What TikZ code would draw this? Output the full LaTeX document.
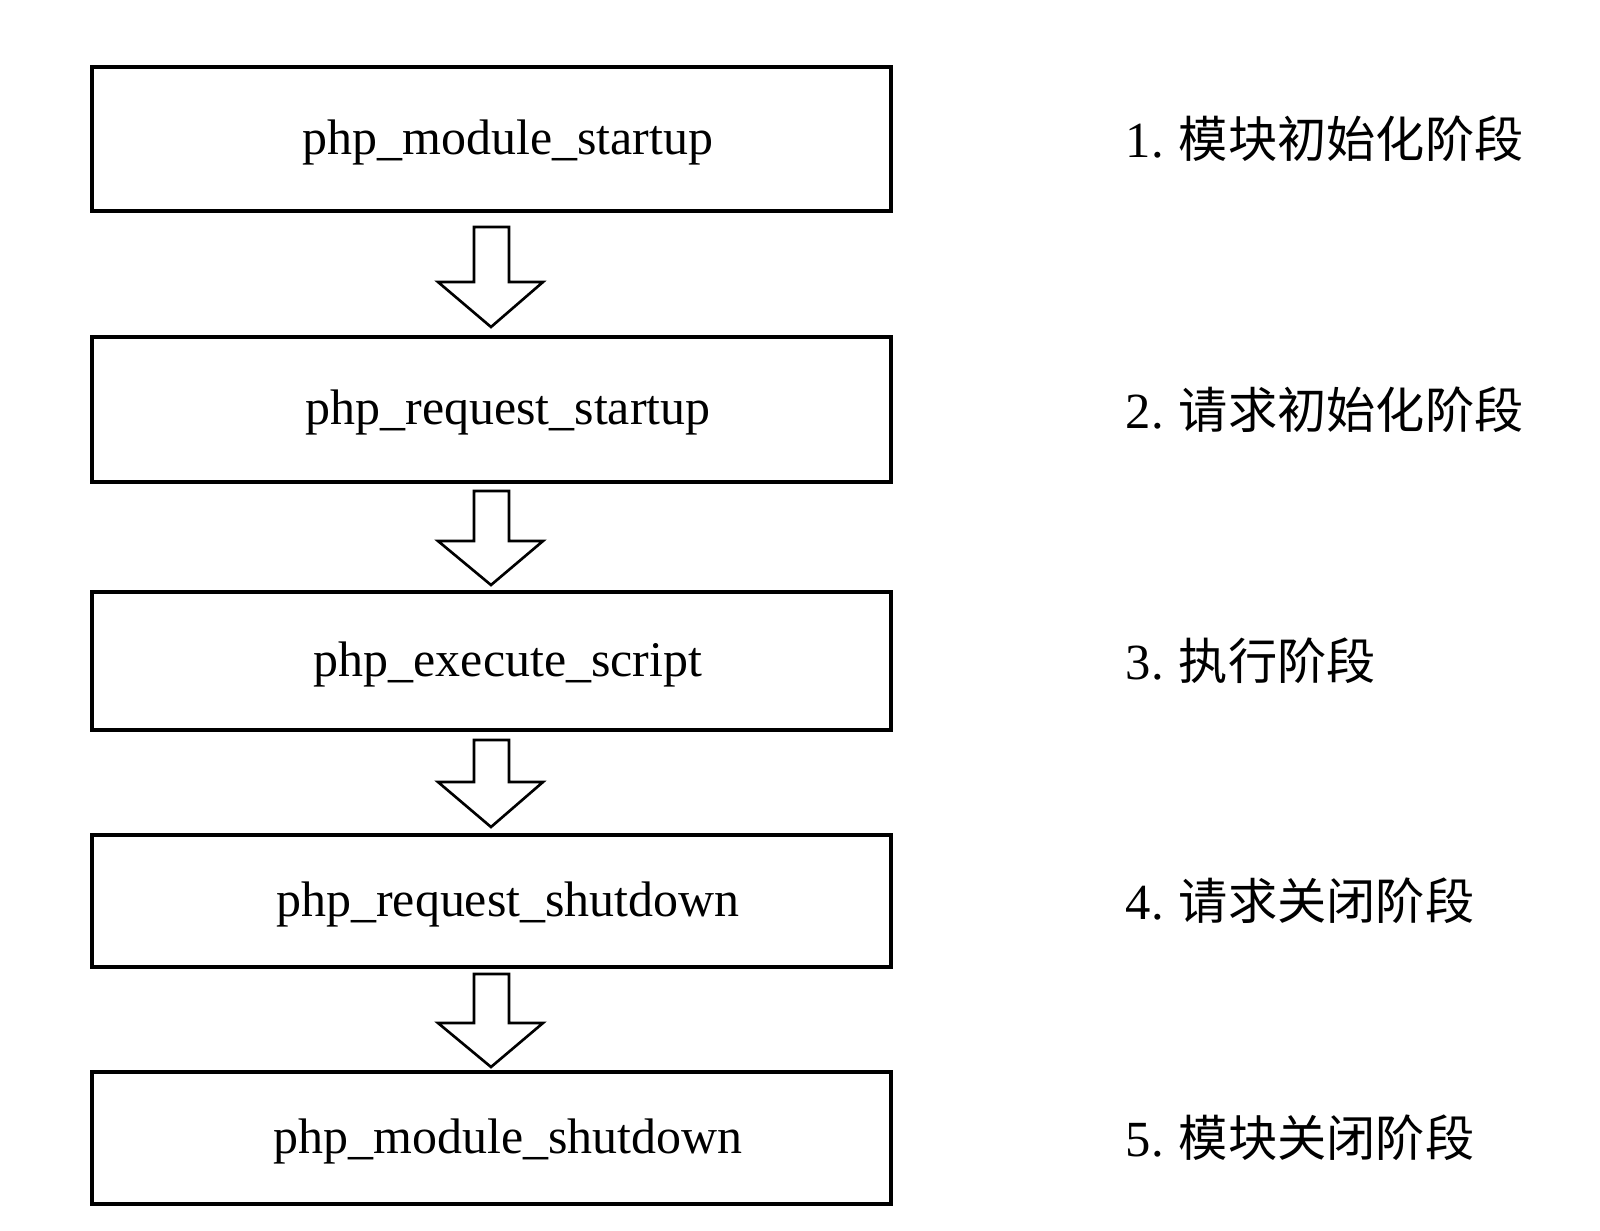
\documentclass[tikz,border=0pt]{standalone}
\usepackage{fontspec}
\setmainfont{Liberation Serif}
\newfontfamily\cjk{Noto Sans CJK SC}
\begin{document}
\begin{tikzpicture}[x=0.01cm,y=-0.01cm,
  stagebox/.style={draw=black,line width=1.15pt,minimum width=7.99cm,inner sep=0pt},
  fname/.style={font=\fontsize{14.2pt}{16pt}\selectfont,inner sep=0pt},
  phase/.style={font=\fontsize{14.4pt}{17pt}\selectfont,anchor=west,inner sep=0pt},
  blockarrow/.style={draw=black,line width=0.75pt,fill=white,line join=miter}]
\useasboundingbox[fill=white] (0,0) rectangle (1600,1230);
% boxes
\node[stagebox,minimum height=1.44cm] (b1) at (491.5,139) {};
\node[stagebox,minimum height=1.45cm] (b2) at (491.5,409.5) {};
\node[stagebox,minimum height=1.38cm] (b3) at (491.5,661) {};
\node[stagebox,minimum height=1.32cm] (b4) at (491.5,901) {};
\node[stagebox,minimum height=1.32cm] (b5) at (491.5,1138) {};
% box texts
\node[fname] (t1) at (508,142) {php\_module\_startup};
\node[fname] (t2) at (508,412.5) {php\_request\_startup};
\node[fname] (t3) at (508,664) {php\_execute\_script};
\node[fname] (t4) at (508,904) {php\_request\_shutdown};
\node[fname] (t5) at (508,1141) {php\_module\_shutdown};
% phase labels
\newcommand{\cjkl}[1]{{\cjk\fontsize{14.0pt}{17pt}\selectfont #1}}
\node[phase] (l1) at (1125,139) {1.\hspace{0.3em}\cjkl{模块初始化阶段}};
\node[phase] (l2) at (1125,409.5) {2.\hspace{0.3em}\cjkl{请求初始化阶段}};
\node[phase] (l3) at (1125,661) {3.\hspace{0.3em}\cjkl{执行阶段}};
\node[phase] (l4) at (1125,901) {4.\hspace{0.3em}\cjkl{请求关闭阶段}};
\node[phase] (l5) at (1125,1138) {5.\hspace{0.3em}\cjkl{模块关闭阶段}};
% block arrows: #1 shaft top, #2 shoulder, #3 tip
\newcommand{\downblock}[3]{%
  \draw[blockarrow] (474,#1) -- (509,#1) -- (509,#2) -- (543,#2) -- (491,#3)
    -- (438,#2) -- (474,#2) -- cycle;}
\downblock{227}{282}{327}
\downblock{491}{541}{585}
\downblock{740}{782}{827}
\downblock{974}{1023}{1067}
\end{tikzpicture}
\end{document}
